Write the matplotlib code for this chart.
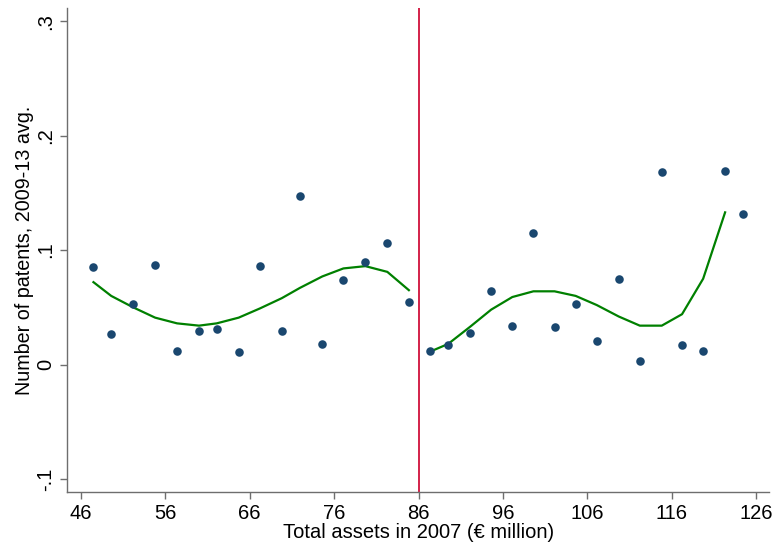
import matplotlib
matplotlib.use("Agg")
import matplotlib.pyplot as plt
import numpy as np

plt.rcParams['font.family'] = ['Liberation Sans', 'DejaVu Sans']

# bins left of the threshold
x_left = [47.5, 49.6, 52.2, 54.8, 57.4, 60.0, 62.1, 64.7, 67.2, 69.8, 71.95, 74.6, 77.1, 79.7, 82.3, 84.85]
y_left = [0.085, 0.027, 0.053, 0.087, 0.012, 0.029, 0.031, 0.011, 0.086, 0.029, 0.147, 0.018, 0.074, 0.090, 0.106, 0.055]
fit_left = [0.072, 0.060, 0.050, 0.041, 0.036, 0.034, 0.036, 0.041, 0.049, 0.058, 0.067, 0.077, 0.084, 0.086, 0.081, 0.065]

# bins right of the threshold
x_right = [87.4, 89.5, 92.1, 94.6, 97.1, 99.6, 102.1, 104.6, 107.1, 109.7, 112.2, 114.8, 117.2, 119.7, 122.3, 124.4]
y_right = [0.0115, 0.0167, 0.0275, 0.0645, 0.034, 0.115, 0.033, 0.0525, 0.021, 0.075, 0.0027, 0.168, 0.0167, 0.0115, 0.169, 0.132]
fit_right = [0.0114, 0.018, 0.033, 0.048, 0.059, 0.064, 0.064, 0.060, 0.052, 0.042, 0.034, 0.034, 0.044, 0.075, 0.133, np.nan]

cutoff = 86
xticks = [46, 56, 66, 76, 86, 96, 106, 116, 126]
yticks = [-0.1, 0, 0.1, 0.2, 0.3]
ytick_labels = ['-.1', '0', '.1', '.2', '.3']

navy = '#1a476f'
green = '#008000'
red = '#d0103a'
gray = '#6e6e6e'

fig = plt.figure(figsize=(7.76, 5.47), dpi=100)
ax = fig.add_axes([0.0867, 0.1005, 0.9043, 0.8849])

ax.scatter(x_left, y_left, s=38, color=navy, zorder=3, linewidths=0)
ax.scatter(x_right, y_right, s=38, color=navy, zorder=3, linewidths=0)
ax.plot(x_left, fit_left, color=green, lw=1.6, zorder=2)
ax.plot(x_right, fit_right, color=green, lw=1.6, zorder=2)
ax.axvline(cutoff, color=red, lw=1.3, zorder=1)

ax.set_xlim(44.4, 127.5)
ax.set_ylim(-0.1114, 0.3116)
ax.set_xticks(xticks)
ax.set_xticklabels([str(t) for t in xticks])
ax.set_yticks(yticks)
ax.set_yticklabels(ytick_labels, rotation=90, va='center')

for s in ['top', 'right']:
    ax.spines[s].set_visible(False)
for s in ['left', 'bottom']:
    ax.spines[s].set_color(gray)
    ax.spines[s].set_linewidth(1.0)
ax.tick_params(axis='both', direction='out', length=5, width=1.0, color=gray,
               labelsize=14.5, labelcolor='black', pad=3.5)

ax.set_xlabel('Total assets in 2007 (€ million)', fontsize=14.5, labelpad=0)
ax.set_ylabel('Number of patents, 2009-13 avg.', fontsize=14.2, labelpad=2)

fig.savefig('out.png', dpi=100, facecolor='white')
